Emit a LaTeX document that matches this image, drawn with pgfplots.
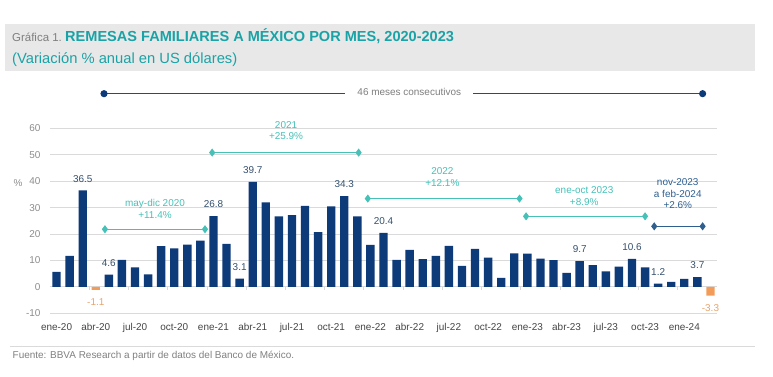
\documentclass[border=0pt]{standalone}
\usepackage{fontspec}
\setmainfont{Liberation Sans}
\usepackage{pgfplots}
\pgfplotsset{compat=1.18}
\usepackage{pgfplotstable}
\definecolor{navy}{HTML}{0D3A78}
\definecolor{orng}{HTML}{F39C5A}
\definecolor{orngtxt}{HTML}{E9A36A}
\definecolor{teal1}{HTML}{45C1B7}
\definecolor{ttl}{HTML}{1AA3A6}
\definecolor{dblue}{HTML}{2F5F8F}
\definecolor{line46}{HTML}{1F4E79}
\definecolor{gridc}{HTML}{DADADA}
\definecolor{tickc}{HTML}{8C8C8C}
\definecolor{xtc}{HTML}{454545}
\definecolor{valc}{HTML}{34506E}
\definecolor{band}{HTML}{E8E8E8}
\definecolor{grtxt}{HTML}{7F7F7F}

\pgfplotstableread{
x y
0 5.7
1 11.7
2 36.5
4 4.6
5 10.2
6 7.4
7 4.7
8 15.4
9 14.6
10 16.0
11 17.5
12 26.8
13 16.3
14 3.1
15 39.7
16 32.0
17 26.7
18 27.1
19 30.6
20 20.7
21 30.5
22 34.3
23 26.7
24 15.9
25 20.4
26 10.2
27 14.0
28 10.5
29 11.7
30 15.5
31 7.9
32 14.4
33 11.1
34 3.4
35 12.7
36 12.6
37 10.7
38 10.1
39 5.3
40 9.7
41 8.2
42 5.9
43 7.7
44 10.6
45 7.4
46 1.2
47 1.9
48 3.0
49 3.7
}\posdata
\pgfplotstableread{
x y
3 -1.1
50 -3.3
}\negdata
\pgfplotstableread{
x y
2.5 -1.1
5.5 -1.1
8.5 -1.1
11.5 -1.1
14.5 -1.1
17.5 -1.1
20.5 -1.1
23.5 -1.1
26.5 -1.1
29.5 -1.1
32.5 -1.1
35.5 -1.1
38.5 -1.1
41.5 -1.1
44.5 -1.1
47.5 -1.1
}\sepdata

\newcommand\fs[2]{\fontsize{#1}{#2}\selectfont}

\begin{document}
\begin{tikzpicture}
\path (0bp,0bp) rectangle (773bp,377bp);
% header band
\fill[band] (5bp,306bp) rectangle (755bp,353bp);
\node[anchor=base west, inner sep=0, text=grtxt] at (12bp,335bp) {\fs{11.5}{13}Gráfica 1.};
\node[anchor=base west, inner sep=0, text=ttl] at (65bp,335bp) {\fs{14.6}{16}\bfseries REMESAS FAMILIARES A MÉXICO POR MES, 2020-2023};
\node[anchor=base west, inner sep=0, text=ttl] at (12bp,313bp) {\fs{14.8}{16}(Variación \% anual en US dólares)};
% footer
\draw[gridc, line width=0.8bp] (10bp,30.3bp) -- (755bp,30.3bp);
\node[anchor=base west, inner sep=0, text=grtxt] at (12.5bp,18.5bp) {\fs{10}{12}Fuente: BBVA Research a partir de datos del Banco de México.};
% percent label
\node[text=tickc, inner sep=0] at (18bp,194bp) {\fs{10}{12}\%};

\begin{axis}[
  at={(50bp,63.7bp)}, anchor=south west,
  scale only axis, width=667bp, height=185bp,
  xmin=-0.5, xmax=50.5, ymin=-10, ymax=60,
  clip=false,
  axis line style={draw=none},
  major tick length=0pt,
  ytick={-10,0,...,60},
  xtick={0,3,...,48},
  xticklabels={ene-20,abr-20,jul-20,oct-20,ene-21,abr-21,jul-21,oct-21,ene-22,abr-22,jul-22,oct-22,ene-23,abr-23,jul-23,oct-23,ene-24},
  ymajorgrids, grid style={gridc, line width=0.8bp},
  /pgf/number format/assume math mode=true,
  yticklabel style={text=tickc, font=\fs{10}{12}, xshift=-6bp},
  xticklabel style={text=xtc, font=\fs{10}{12}, yshift=-6.5bp},
]
\addplot[ybar, bar width=0.64, bar shift=0pt, fill=navy, draw=none] table[x=x,y=y] {\posdata};
\addplot[ybar, bar width=0.64, bar shift=0pt, fill=orng, draw=none] table[x=x,y=y] {\negdata};
\addplot[ycomb, gridc, line width=0.8bp, no marks] table[x=x,y=y] {\sepdata};

% value labels
\begin{scope}[every node/.style={text=valc, font=\fs{10}{12}, inner sep=0, anchor=south, yshift=8bp}]
\node at (axis cs:2,36.5) {36.5};
\node at (axis cs:4,4.6) {4.6};
\node at (axis cs:12,26.8) {26.8};
\node at (axis cs:14,3.1) {3.1};
\node at (axis cs:15,39.7) {39.7};
\node at (axis cs:22,34.3) {34.3};
\node at (axis cs:25,20.4) {20.4};
\node at (axis cs:40,9.7) {9.7};
\node at (axis cs:44,10.6) {10.6};
\node at (axis cs:46,1.2) {1.2};
\node at (axis cs:49,3.7) {3.7};
\end{scope}
\node[text=orngtxt, font=\fs{10}{12}, inner sep=0, anchor=north, yshift=-8.5bp] at (axis cs:3,-1.1) {-1.1};
\node[text=orngtxt, font=\fs{10}{12}, inner sep=0, anchor=north, yshift=-8.5bp] at (axis cs:50,-3.3) {-3.3};

% 46 meses
\addplot[line46, line width=1.1bp, mark=*, mark size=3bp, mark options={fill=navy, draw=navy}] coordinates {(3.63,73.1) (49.4,73.1)};
\node[fill=white, inner xsep=12bp, inner ysep=2bp, text=grtxt, font=\fs{10}{12}] at (axis cs:26.97,73.6) {46 meses consecutivos};

% period brackets
\addplot[teal1, line width=1.1bp, mark=diamond*, mark size=3.2bp, mark options={fill=teal1, draw=teal1}] coordinates {(3.7,21.8) (11.35,21.8)};
\addplot[teal1, line width=1.1bp, mark=diamond*, mark size=3.2bp, mark options={fill=teal1, draw=teal1}] coordinates {(11.9,50.8) (23.1,50.8)};
\addplot[teal1, line width=1.1bp, mark=diamond*, mark size=3.2bp, mark options={fill=teal1, draw=teal1}] coordinates {(23.8,33.4) (35.4,33.4)};
\addplot[teal1, line width=1.1bp, mark=diamond*, mark size=3.2bp, mark options={fill=teal1, draw=teal1}] coordinates {(35.9,26.7) (45.0,26.7)};
\addplot[dblue, line width=1.1bp, mark=diamond*, mark size=3.2bp, mark options={fill=dblue, draw=dblue}] coordinates {(45.7,22.9) (49.4,22.9)};

\begin{scope}[every node/.style={font=\fs{10}{11.7}, align=center, inner sep=0}]
\node[text=teal1] at (axis cs:7.53,29.6) {may-dic 2020\\+11.4\%};
\node[text=teal1] at (axis cs:17.55,59.2) {2021\\+25.9\%};
\node[text=teal1] at (axis cs:29.5,41.5) {2022\\+12.1\%};
\node[text=teal1] at (axis cs:40.35,34.4) {ene-oct 2023\\+8.9\%};
\node[text=dblue] at (axis cs:47.5,35.2) {nov-2023\\a feb-2024\\+2.6\%};
\end{scope}
\end{axis}
\end{tikzpicture}
\end{document}
